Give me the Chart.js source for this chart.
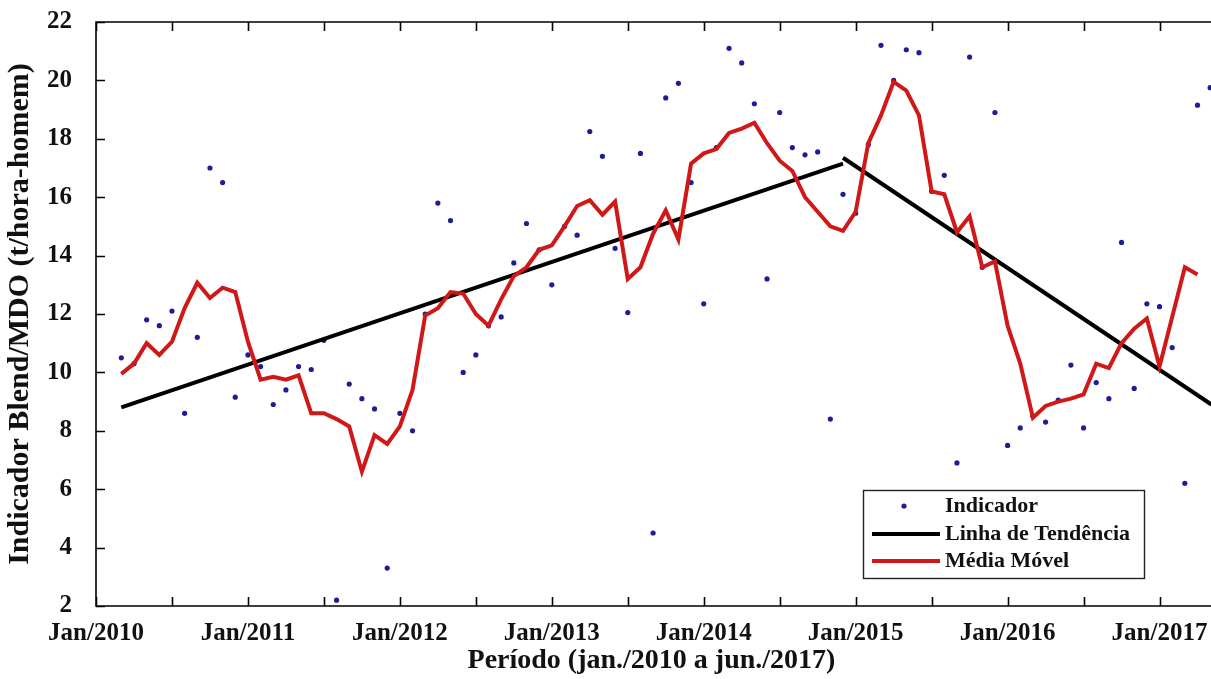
<!DOCTYPE html>
<html>
<head>
<meta charset="utf-8">
<script src="https://cdn.jsdelivr.net/npm/chart.js@4.4.1/dist/chart.umd.min.js"></script>
<style>
  body { margin: 0; background: #fff; }
  #caixa { position: relative; width: 1211px; height: 679px; }
</style>
</head>
<body>
<div id="caixa"><canvas id="grafico"></canvas></div>
<script>
// meses contados a partir de Jan/2010 (0)
var mesInicialIndicador = 2;
var indicador = [
    10.5, 10.3, 11.8, 11.6, 12.1, 8.6, 11.2, 17.0, 16.5, 9.15,
    10.6, 10.2, 8.9, 9.4, 10.2, 10.1, 11.1, 2.2, 9.6, 9.1,
    8.75, 3.3, 8.6, 8.0, 12.0, 15.8, 15.2, 10.0, 10.6, 11.6,
    11.9, 13.75, 15.1, 14.2, 13.0, 15.0, 14.7, 18.25, 17.4, 14.25,
    12.05, 17.5, 4.5, 19.4, 19.9, 16.5, 12.35, 17.7, 21.1, 20.6,
    19.2, 13.2, 18.9, 17.7, 17.45, 17.55, 8.4, 16.1, 15.45, 17.8,
    21.2, 20.0, 21.05, 20.95, 16.2, 16.75, 6.9, 20.8, 13.6, 18.9,
    7.5, 8.1, 8.5, 8.3, 9.05, 10.25, 8.1, 9.65, 9.1, 14.45,
    9.45, 12.35, 12.25, 10.85, 6.2, 19.15, 19.75
];

var mesInicialMedia = 2;
var mediaMovel = [
    9.95, 10.3, 11.0, 10.6, 11.05, 12.2, 13.07, 12.55, 12.9, 12.75,
    11.05, 9.75, 9.85, 9.75, 9.9, 8.6, 8.6, 8.4, 8.15, 6.6,
    7.85, 7.55, 8.15, 9.4, 11.95, 12.2, 12.75, 12.7, 12.0, 11.6,
    12.5, 13.3, 13.6, 14.2, 14.35, 15.0, 15.7, 15.9, 15.4, 15.85,
    13.2, 13.6, 14.75, 15.55, 14.55, 17.15, 17.5, 17.65, 18.2, 18.35,
    18.55, 17.85, 17.25, 16.9, 16.0, 15.5, 15.0, 14.85, 15.5, 17.85,
    18.8, 19.95, 19.65, 18.8, 16.2, 16.1, 14.8, 15.35, 13.6, 13.8,
    11.6, 10.3, 8.45, 8.85, 9.0, 9.1, 9.25, 10.3, 10.15, 11.0,
    11.5, 11.85, 10.2, 11.9, 13.6, 13.35
];

var tendenciaMeses1 = [2, 59];
var tendencia1 = [8.8, 17.15];
var tendenciaMeses2 = [59, 88.1];
var tendencia2 = [17.35, 8.9];

var rotulosX = ['Jan/2010', 'Jan/2011', 'Jan/2012', 'Jan/2013', 'Jan/2014', 'Jan/2015', 'Jan/2016', 'Jan/2017'];
var rotulosLegenda = ['Indicador', 'Linha de Tendência', 'Média Móvel'];

var fonte = "'Liberation Serif', 'Times New Roman', serif";
var azul = '#1d1d96';
var vermelho = '#d01818';

function pontos(inicio, valores) {
    return valores.map(function (v, i) { return { x: inicio + i, y: v }; });
}
function pontosXY(meses, valores) {
    return valores.map(function (v, i) { return { x: meses[i], y: v }; });
}

// moldura estilo MATLAB: eixos, ticks para dentro e legenda
var moldura = {
    id: 'moldura',
    afterDatasetsDraw: function (chart) {
        var ctx = chart.ctx;
        var a = chart.chartArea;
        var sx = chart.scales.x;
        var sy = chart.scales.y;
        ctx.save();
        ctx.strokeStyle = '#000';
        ctx.lineWidth = 1.6;
        ctx.beginPath();
        ctx.moveTo(chart.width, a.top); ctx.lineTo(a.left, a.top);
        ctx.lineTo(a.left, a.bottom); ctx.lineTo(chart.width, a.bottom);
        sx.ticks.forEach(function (t) {
            var px = Math.round(sx.getPixelForValue(t.value)) + 0.5;
            ctx.moveTo(px, a.bottom); ctx.lineTo(px, a.bottom - 9);
            ctx.moveTo(px, a.top); ctx.lineTo(px, a.top + 9);
        });
        sy.ticks.forEach(function (t) {
            var py = Math.round(sy.getPixelForValue(t.value)) + 0.5;
            ctx.moveTo(a.left, py); ctx.lineTo(a.left + 9, py);
        });
        ctx.stroke();
        ctx.restore();
    },
    afterDraw: function (chart) {
        var ctx = chart.ctx;
        var bx = 863, by = 490, bw = 281, bh = 88;
        ctx.save();
        ctx.fillStyle = '#fff';
        ctx.fillRect(bx, by, bw, bh);
        ctx.strokeStyle = '#222';
        ctx.lineWidth = 1.4;
        ctx.strokeRect(bx + 0.5, by + 0.5, bw, bh);
        var linhas = [506, 534, 561];
        ctx.font = 'bold 22px ' + fonte;
        ctx.textBaseline = 'middle';
        ctx.fillStyle = '#111';
        rotulosLegenda.forEach(function (r, i) {
            ctx.fillText(r, bx + 82, linhas[i]);
        });
        ctx.fillStyle = azul;
        ctx.beginPath();
        ctx.arc(bx + 41, linhas[0], 2.6, 0, Math.PI * 2);
        ctx.fill();
        ctx.lineWidth = 4;
        ctx.strokeStyle = '#000';
        ctx.beginPath(); ctx.moveTo(bx + 9, linhas[1]); ctx.lineTo(bx + 77, linhas[1]); ctx.stroke();
        ctx.strokeStyle = vermelho;
        ctx.beginPath(); ctx.moveTo(bx + 9, linhas[2]); ctx.lineTo(bx + 77, linhas[2]); ctx.stroke();
        ctx.restore();
    }
};

var ctx = document.getElementById('grafico').getContext('2d');
var grafico = new Chart(ctx, {
    type: 'line',
    data: {
        datasets: [{
            label: rotulosLegenda[2],
            data: pontos(mesInicialMedia, mediaMovel),
            borderColor: vermelho,
            borderWidth: 4,
            pointRadius: 0,
            tension: 0,
            clip: false,
            order: 1
        }, {
            label: rotulosLegenda[1],
            data: pontosXY(tendenciaMeses1, tendencia1),
            borderColor: '#000',
            borderWidth: 4,
            pointRadius: 0,
            clip: false,
            order: 2
        }, {
            label: rotulosLegenda[1] + ' 2',
            data: pontosXY(tendenciaMeses2, tendencia2),
            borderColor: '#000',
            borderWidth: 4,
            pointRadius: 0,
            clip: false,
            order: 2
        }, {
            label: rotulosLegenda[0],
            data: pontos(mesInicialIndicador, indicador),
            showLine: false,
            pointRadius: 2.6,
            pointBackgroundColor: azul,
            pointBorderWidth: 0,
            clip: false,
            order: 3
        }]
    },
    options: {
        responsive: true,
        maintainAspectRatio: false,
        animation: false,
        layout: { padding: { top: 22, right: 0, left: 0, bottom: 0 } },
        plugins: {
            legend: { display: false },
            tooltip: { enabled: false }
        },
        scales: {
            x: {
                type: 'linear',
                min: 0,
                max: 87.75,
                grid: { display: false, drawTicks: false },
                border: { display: false },
                ticks: {
                    stepSize: 6,
                    includeBounds: false,
                    autoSkip: false,
                    maxRotation: 0,
                    padding: 13,
                    color: '#111',
                    font: { family: fonte, size: 25, weight: 'bold' },
                    callback: function (v) {
                        return v % 12 === 0 ? rotulosX[v / 12] : '';
                    }
                },
                title: {
                    display: true,
                    text: 'Período (jan./2010 a jun./2017)',
                    color: '#111',
                    padding: { top: 0, bottom: 1 },
                    font: { family: fonte, size: 28, weight: 'bold' }
                },
                afterFit: function (s) {
                    s.height = 73;
                    s.paddingLeft = 0;
                    s.paddingRight = 0;
                }
            },
            y: {
                min: 2,
                max: 22,
                grid: { display: false, drawTicks: false },
                border: { display: false },
                ticks: {
                    stepSize: 2,
                    padding: 24,
                    color: '#111',
                    font: { family: fonte, size: 25, weight: 'bold' }
                },
                title: {
                    display: true,
                    text: 'Indicador Blend/MDO (t/hora-homem)',
                    color: '#111',
                    padding: { top: 2, bottom: 0 },
                    font: { family: fonte, size: 30, weight: 'bold' }
                },
                afterFit: function (s) {
                    s.width = 96;
                    s.paddingTop = 0;
                    s.paddingBottom = 0;
                }
            }
        }
    },
    plugins: [moldura]
});
</script>
</body>
</html>
